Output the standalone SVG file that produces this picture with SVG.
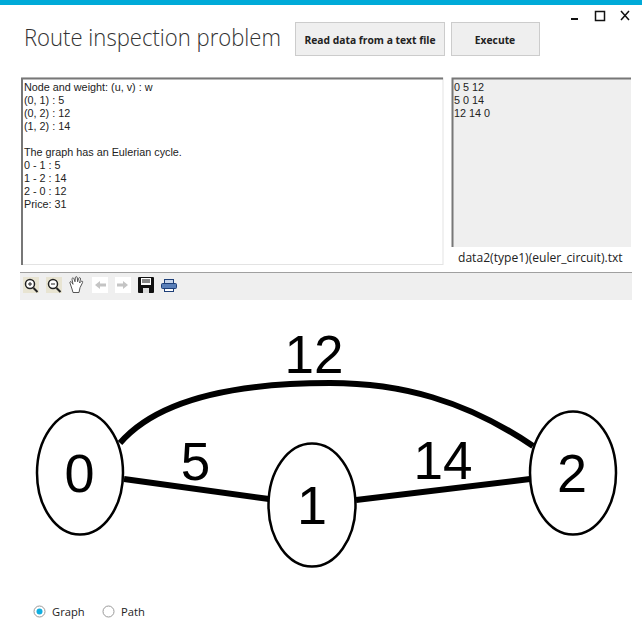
<svg xmlns="http://www.w3.org/2000/svg" width="642" height="640" viewBox="0 0 642 640">
<style>
.ui{font-family:"Liberation Sans",Arial,sans-serif;font-size:10.800px;fill:#222}
.seg{font-family:"Open Sans","Noto Sans",sans-serif;fill:#222}
.btn{fill:#efefef;stroke:#cccccc;stroke-width:1}
.btnt{font-family:"Open Sans",sans-serif;font-size:10.300px;font-weight:700;fill:#222;text-anchor:middle}
.edge{fill:none;stroke:#000;stroke-width:6}
.node{fill:#fff;stroke:#000;stroke-width:2.500}
.nl{font-family:"Liberation Sans",Arial,sans-serif;font-size:54px;fill:#000;text-anchor:middle}
.el{font-family:"Liberation Sans",Arial,sans-serif;font-size:53px;fill:#000;text-anchor:middle}
</style>
<rect width="642" height="640" fill="#fff"/>
<rect width="642" height="5" fill="#00aad8"/>
<g id="window-controls" fill="none" stroke="#111">
<rect x="571" y="18" width="7" height="2" fill="#111" stroke="none"/>
<rect x="595.500" y="11.500" width="9" height="9" stroke-width="1.500"/>
<path d="M621 11l8 9M629 11l-8 9" stroke-width="1.500"/>
</g>
<text x="24" y="46" font-size="24" font-weight="300" textLength="257" lengthAdjust="spacingAndGlyphs" fill="#333" style="font-family:'Open Sans',sans-serif">Route inspection problem</text>
<g id="btn-read"><rect class="btn" x="295.500" y="22.500" width="149" height="33"/><text class="btnt" x="370" y="44">Read data from a text file</text></g>
<g id="btn-exec"><rect class="btn" x="451.500" y="22.500" width="88" height="33"/><text class="btnt" x="495" y="44">Execute</text></g>
<g id="text-output">
<rect x="22" y="78" width="421" height="186.500" fill="#fff" stroke="#e3e3e3"/>
<path d="M22 265V78.500H443" fill="none" stroke="#777" stroke-width="2"/>
<g class="ui"><text x="24" y="91">Node and weight: (u, v) : w</text><text x="24" y="104">(0, 1) : 5</text><text x="24" y="117">(0, 2) : 12</text><text x="24" y="130">(1, 2) : 14</text><text x="24" y="156">The graph has an Eulerian cycle.</text><text x="24" y="169">0 - 1 : 5</text><text x="24" y="182">1 - 2 : 14</text><text x="24" y="195">2 - 0 : 12</text><text x="24" y="208">Price: 31</text></g>
</g>
<g id="matrix">
<rect x="452" y="78" width="179" height="169" fill="#efefef"/>
<path d="M452.500 247V78.500H631" fill="none" stroke="#777" stroke-width="2"/>
<g class="ui"><text x="454" y="91">0 5 12</text><text x="454" y="104">5 0 14</text><text x="454" y="117">12 14 0</text></g>
</g>
<text class="seg" x="458" y="262" font-size="12.100">data2(type1)(euler_circuit).txt</text>
<g id="toolbar">
<rect x="20" y="272" width="612" height="28" fill="#efefef"/>
<rect x="20" y="272" width="612" height="1" fill="#a0a0a0"/>
<g fill="none" stroke="#222" stroke-width="2">
<rect x="23" y="277" width="16" height="16" fill="#e8e4d2" stroke="none"/>
<circle cx="30" cy="284" r="4.500" fill="#fff" stroke-width="1.500"/><path d="M33.500 288l4 4"/>
<path d="M28 284h4M30 282v4" stroke-width="1"/>
<rect x="46" y="277" width="16" height="16" fill="#e8e4d2" stroke="none"/>
<circle cx="53" cy="284" r="4.500" fill="#fff" stroke-width="1.500"/><path d="M56.500 288l4 4"/><path d="M51 284h4" stroke-width="1"/>
</g>
<path d="M72 289l-2-6c-.500-1.500 1-2 1.700-.700l1.300 2-1-5c-.300-1.500 1.500-2 2-.500l1 3 .300-4c.100-1.500 2-1.500 2 0l.300 4 1-3.300c.500-1.500 2.200-1 1.900.500l-1 4 1.500-1.500c1-1 2.300 0 1.500 1.200l-2.500 5-1 4.800h-6z" fill="#fff" stroke="#555" stroke-width="1"/>
<rect x="92" y="277" width="16" height="16" fill="#fff"/>
<rect x="115" y="277" width="16" height="16" fill="#fff"/>
<path d="M95 285l5-4v2.500h6v3h-6v2.500z" fill="#c4c4c4"/>
<path d="M128 285l-5-4v2.500h-6v3h6v2.500z" fill="#c4c4c4"/>
<rect x="138" y="277" width="16" height="16" rx="1" fill="#111"/>
<rect x="141" y="278" width="10" height="7" fill="#fff"/>
<path d="M142 280h8M142 282h8" stroke="#111" stroke-width="1"/>
<rect x="143" y="288" width="6" height="5" fill="#ddd"/>
<rect x="161.500" y="283.500" width="15" height="5" rx="1" fill="#5a7fb8" stroke="#1e3f78"/>
<rect x="164.500" y="279.500" width="9" height="4" fill="#c9d6ea" stroke="#1e3f78"/>
<rect x="164.500" y="288.500" width="9" height="3" fill="#fff" stroke="#1e3f78"/>
</g>
<g id="connectors">
<path class="edge" d="M120 443C152 406 215 383 330 383C400 383 465 400 533 446"/>
<path class="edge" d="M124 479L269 499"/>
<path class="edge" d="M356 500L530 479"/>
</g>
<g id="edge-labels">
<text class="el" x="314" y="373">12</text>
<text class="el" x="195.500" y="480">5</text>
<text class="el" x="443" y="479">14</text>
</g>
<g id="node-0"><ellipse class="node" cx="80" cy="473" rx="43" ry="61.500"/><text class="nl" x="79.500" y="492">0</text></g>
<g id="node-1"><ellipse class="node" cx="312" cy="505" rx="43.500" ry="61.500"/><text class="nl" x="312" y="524">1</text></g>
<g id="node-2"><ellipse class="node" cx="573" cy="473" rx="43" ry="61.500"/><text class="nl" x="572" y="492">2</text></g>
<g id="radio-graph"><circle cx="39.500" cy="611.500" r="5.500" fill="#fff" stroke="#999"/><circle cx="39.500" cy="611.500" r="3" fill="#10aee0"/><text class="seg" x="52" y="616" font-size="11.200">Graph</text></g>
<g id="radio-path"><circle cx="108.500" cy="611.500" r="5.500" fill="#fff" stroke="#999"/><text class="seg" x="121" y="616" font-size="11.200">Path</text></g>
</svg>
